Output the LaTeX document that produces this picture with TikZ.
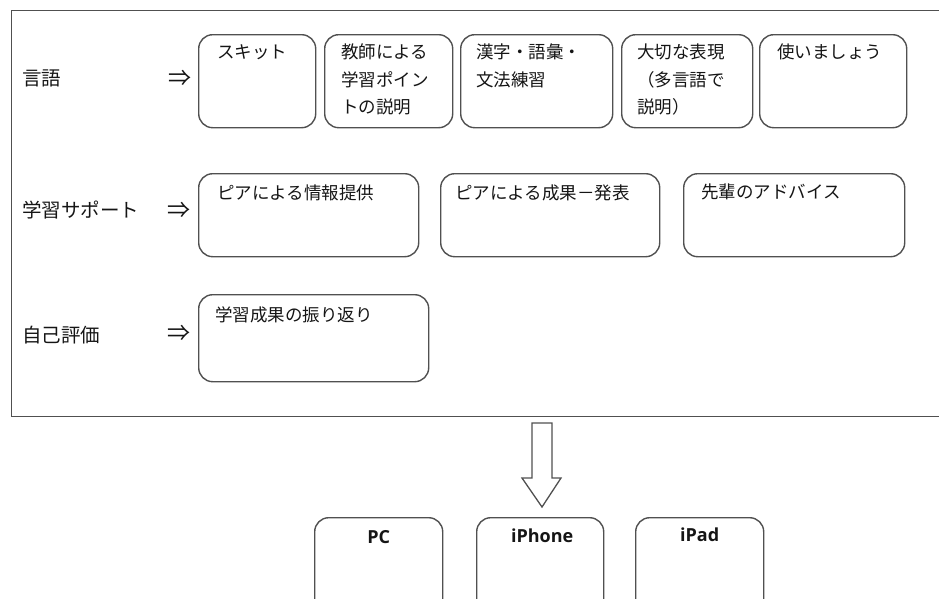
\documentclass[tikz,border=0pt]{standalone}
\usepackage{fontspec}
\setmainfont{Noto Sans CJK JP}
\newfontfamily\latinbold{Open Sans}[BoldFont={Open Sans Bold}]
\definecolor{ln}{HTML}{505050}
\definecolor{txt}{HTML}{151515}
\begin{document}
\begin{tikzpicture}[x=1pt,y=-1pt,
  frm/.style={draw=ln, line width=1.4pt, inner sep=0pt, anchor=north west},
  box/.style={draw=ln, line width=1.4pt, rounded corners=14pt, inner sep=0pt, anchor=north west},
  bt/.style={anchor=north west, inner sep=0pt, align=left, text=txt, font=\fontsize{17.5}{27.5}\selectfont},
  lab/.style={anchor=west, inner sep=0pt, text=txt, font=\fontsize{19.5}{24}\selectfont},
  imp/.style={anchor=center, inner sep=0pt, text=txt, font=\fontsize{23}{24}\selectfont},
  dev/.style={anchor=center, inner sep=0pt, text=txt, font=\latinbold\bfseries\fontsize{18}{22}\selectfont}]
\useasboundingbox (0,0) rectangle (939,598);
\clip (0,0) rectangle (939,598);
% outer frame (right side runs off the picture)
\node[frm, minimum width=945pt, minimum height=406pt] (frame) at (11,10) {};
% row labels
\node[lab] (l1) at (22,78) {言語};
\node[lab] (l2) at (22,210) {学習サポート};
\node[lab] (l3) at (22,335) {自己評価};
\node[imp] (a1) at (180,78) {⇒};
\node[imp] (a2) at (179,210) {⇒};
\node[imp] (a3) at (179,333) {⇒};
% row 1
\node[box, minimum width=117pt, minimum height=93pt] (b11) at (198,34) {};
\node[box, minimum width=128pt, minimum height=93pt] (b12) at (324,34) {};
\node[box, minimum width=152pt, minimum height=93pt] (b13) at (460,34) {};
\node[box, minimum width=131pt, minimum height=93pt] (b14) at (621,34) {};
\node[box, minimum width=147pt, minimum height=93pt] (b15) at (759,34) {};
\node[bt] (t11) at (217,44) {スキット};
\node[bt] (t12) at (341,44) {教師による\\学習ポイン\\トの説明};
\node[bt] (t13) at (476,44) {漢字・語彙・\\文法練習};
\node[bt] (t14) at (637,44) {大切な表現\\（多言語で\\説明）};
\node[bt] (t15) at (777,44) {使いましょう};
% row 2
\node[box, minimum width=220pt, minimum height=83pt] (b21) at (198,173) {};
\node[box, minimum width=219pt, minimum height=83pt] (b22) at (440,173) {};
\node[box, minimum width=221pt, minimum height=83pt] (b23) at (683,173) {};
\node[bt] (t21) at (217,185) {ピアによる情報提供};
\node[bt] (t22) at (455,185) {ピアによる成果－発表};
\node[bt] (t23) at (701,184) {先輩のアドバイス};
% row 3
\node[box, minimum width=230pt, minimum height=87pt] (b31) at (198,294) {};
\node[bt] (t31) at (215,307) {学習成果の振り返り};
% block arrow
\draw[ln, line width=1.3pt, line join=miter, fill=white]
  (532,423) -- (552,423) -- (552,478) -- (561,478) -- (542,507) -- (522,478) -- (532,478) -- cycle;
% device boxes (bottoms run off the picture)
\node[box, minimum width=128pt, minimum height=100pt] (pc) at (314,517) {};
\node[box, minimum width=127pt, minimum height=100pt] (iphone) at (476,517) {};
\node[box, minimum width=128pt, minimum height=100pt] (ipad) at (635,517) {};
\node[dev] (tpc) at ([yshift=-20pt]pc.north) {PC};
\node[dev] (tiphone) at ([xshift=2pt,yshift=-19pt]iphone.north) {iPhone};
\node[dev] (tipad) at ([yshift=-18pt]ipad.north) {iPad};
\end{tikzpicture}
\end{document}
